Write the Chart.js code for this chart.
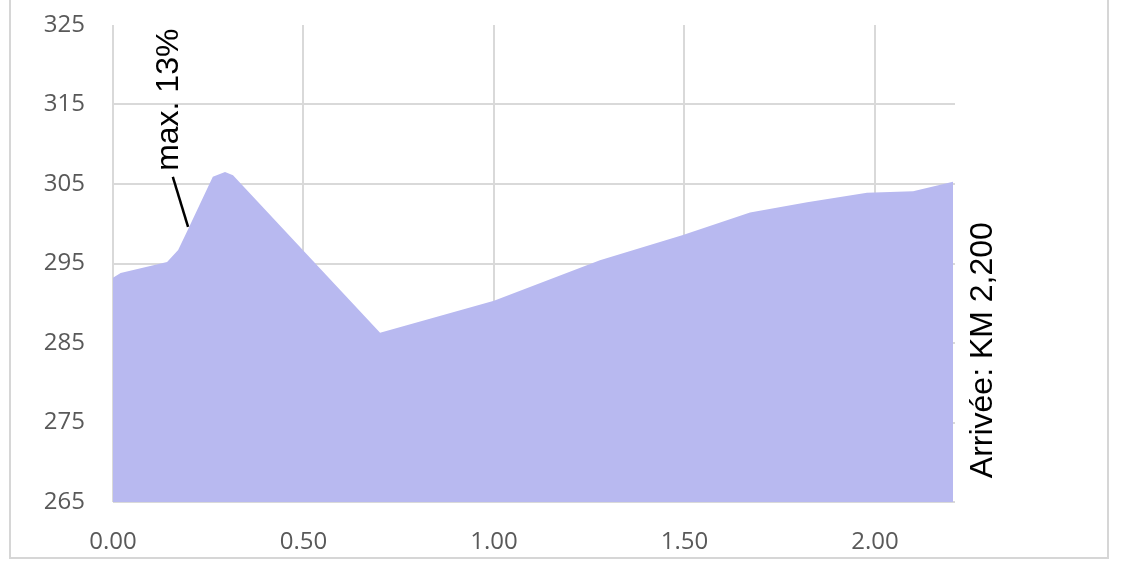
<!DOCTYPE html>
<html>
<head>
<meta charset="utf-8">
<script src="https://cdn.jsdelivr.net/npm/chart.js@4/dist/chart.umd.min.js"></script>
<style>
  html, body { margin: 0; padding: 0; background: #ffffff; }
  #wrap { position: relative; width: 1124px; height: 570px; }
</style>
</head>
<body>
<div id="wrap"><canvas id="c" width="1124" height="570"></canvas></div>
<script>
// Distance along the course (km) and elevation (m)
const distanceKm = [0, 0.02, 0.142, 0.171, 0.194, 0.262, 0.294, 0.315, 0.701, 1.0, 1.278, 1.496, 1.672, 1.822, 1.979, 2.100, 2.205];
const elevationM = [293.2, 293.8, 295.2, 296.7, 299.0, 305.9, 306.5, 306.1, 286.3, 290.3, 295.4, 298.6, 301.4, 302.7, 303.9, 304.1, 305.3];

const xTickValues = [0, 0.5, 1.0, 1.5, 2.0];
const yTickValues = [265, 275, 285, 295, 305, 315, 325];

const slopeLabel = 'max. 13%';
const finishLabel = 'Arrivée: KM 2,200';
// annotation anchors in data units
const slopeLeader = { x1: 0.157, y1: 305.9, x2: 0.197, y2: 299.6 };
const slopeTextAt = { x: 0.147, y: 315.6 };
const finishTextAt = { x: 2.285, y: 284.1 };

const points = distanceKm.map((d, i) => ({ x: d, y: elevationM[i] }));

const gridColor = '#d9d9d9';
const tickColor = '#595959';

const framePlugin = {
  id: 'frame',
  beforeDraw(chart) {
    const ctx = chart.ctx;
    ctx.save();
    ctx.fillStyle = '#ffffff';
    ctx.fillRect(0, 0, chart.width, chart.height);
    ctx.strokeStyle = '#d6d6d6';
    ctx.lineWidth = 2;
    ctx.beginPath();
    ctx.moveTo(10, 0);
    ctx.lineTo(10, 558);
    ctx.lineTo(1108, 558);
    ctx.lineTo(1108, 0);
    ctx.stroke();
    ctx.restore();
  }
};

const annotPlugin = {
  id: 'annot',
  afterDatasetsDraw(chart) {
    const ctx = chart.ctx;
    const xs = chart.scales.x, ys = chart.scales.y;
    ctx.save();
    // leader line
    ctx.strokeStyle = '#000000';
    ctx.lineWidth = 2.5;
    ctx.beginPath();
    ctx.moveTo(xs.getPixelForValue(slopeLeader.x1), ys.getPixelForValue(slopeLeader.y1));
    ctx.lineTo(xs.getPixelForValue(slopeLeader.x2), ys.getPixelForValue(slopeLeader.y2));
    ctx.stroke();
    // rotated texts
    ctx.fillStyle = '#000000';
    ctx.font = '32px "Liberation Sans", Arial, sans-serif';
    ctx.textAlign = 'center';
    ctx.textBaseline = 'middle';
    const drawRot = (txt, px, py) => {
      ctx.save();
      ctx.translate(px, py);
      ctx.rotate(-Math.PI / 2);
      ctx.fillText(txt, 0, 0);
      ctx.restore();
    };
    drawRot(slopeLabel, xs.getPixelForValue(slopeTextAt.x), ys.getPixelForValue(slopeTextAt.y));
    drawRot(finishLabel, xs.getPixelForValue(finishTextAt.x), ys.getPixelForValue(finishTextAt.y));
    ctx.restore();
  }
};

new Chart(document.getElementById('c'), {
  type: 'line',
  data: {
    datasets: [{
      data: points,
      fill: 'origin',
      backgroundColor: '#b8b9f0',
      borderColor: '#b8b9f0',
      borderWidth: 0,
      pointRadius: 0,
      tension: 0
    }]
  },
  plugins: [framePlugin, annotPlugin],
  options: {
    responsive: false,
    animation: false,
    devicePixelRatio: 1,
    layout: { autoPadding: false, padding: { left: 0, right: 169, top: 25, bottom: 0 } },
    plugins: { legend: { display: false }, tooltip: { enabled: false } },
    scales: {
      x: {
        type: 'linear',
        min: 0,
        max: 2.21,
        afterBuildTicks: (axis) => { axis.ticks = xTickValues.map(v => ({ value: v })); },
        afterFit: (scale) => { scale.height = 68; scale.paddingLeft = 0; scale.paddingRight = 0; },
        ticks: {
          color: tickColor,
          font: { family: '"Open Sans", sans-serif', size: 24 },
          padding: 26,
          maxRotation: 0,
          callback: (v) => Number(v).toFixed(2)
        },
        grid: { color: gridColor, lineWidth: 2, drawTicks: false },
        border: { display: false }
      },
      y: {
        type: 'linear',
        min: 265,
        max: 325,
        afterBuildTicks: (axis) => { axis.ticks = yTickValues.map(v => ({ value: v })); },
        afterFit: (scale) => { scale.width = 113; scale.paddingTop = 0; scale.paddingBottom = 0; },
        ticks: {
          color: tickColor,
          font: { family: '"Open Sans", sans-serif', size: 24 },
          padding: 28,
          callback: (v) => String(v)
        },
        grid: {
          color: (c) => (c.tick && c.tick.value === 325) ? 'rgba(0,0,0,0)' : gridColor,
          lineWidth: 2,
          drawTicks: false
        },
        border: { display: false }
      }
    }
  }
});
</script>
</body>
</html>
